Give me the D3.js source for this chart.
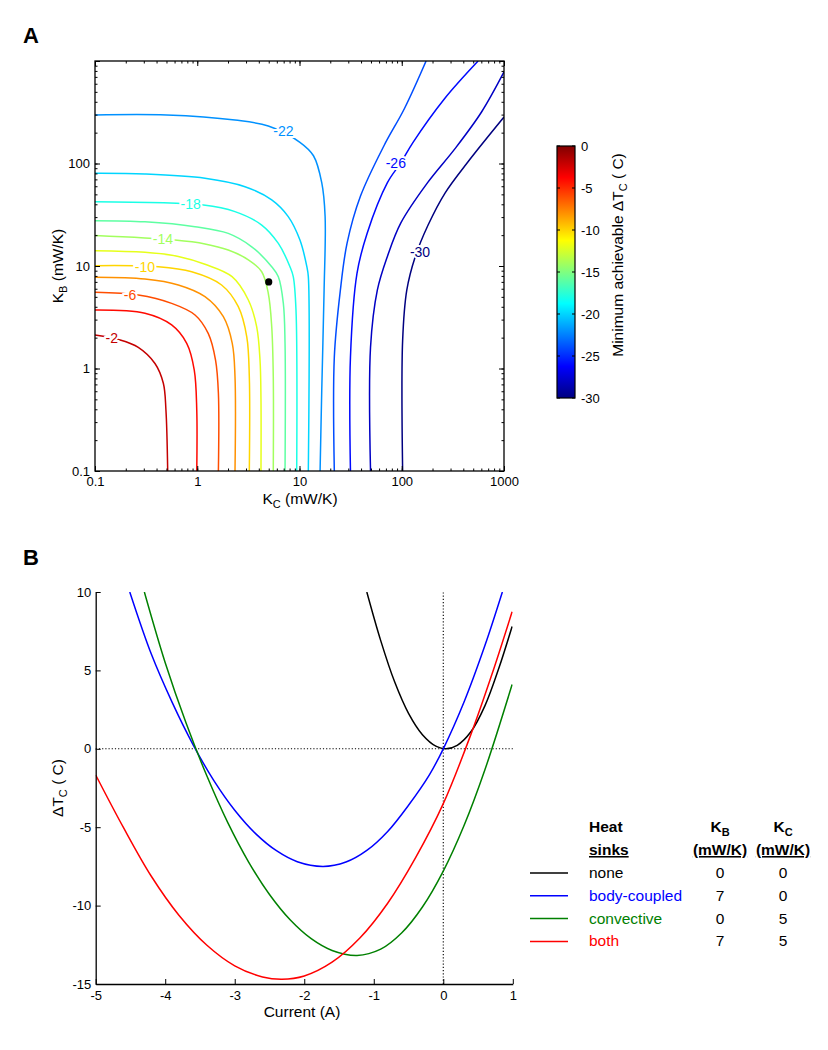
<!DOCTYPE html>
<html>
<head>
<meta charset="UTF-8">
<title>Heat sinks and minimum achievable dT</title>
<script src="https://d3js.org/d3.v7.min.js"></script>
<style>
  body { margin: 0; background: #ffffff; }
  svg { font-family: "Liberation Sans", Arial, Helvetica, sans-serif; }
</style>
</head>
<body>
<div id="chart"></div>
<script>
// ---------- panel A data: contour lines, points are [K_C, K_B] in mW/K ----------
var contourLevels = [-2, -4, -6, -8, -10, -12, -14, -16, -18, -20, -22, -24, -26, -28, -30];
var c2  = [[0.1,2.12],[0.176,1.90],[0.265,1.61],[0.386,1.12],[0.466,0.718],[0.494,0.394],[0.514,0.1]];
var c4  = [[0.1,3.72],[0.308,3.46],[0.562,2.66],[0.789,1.76],[0.935,0.966],[0.989,0.394],[0.989,0.1]];
var c6  = [[0.1,5.54],[0.265,5.21],[0.562,4.32],[0.951,3.33],[1.28,2.20],[1.51,1.21],[1.61,0.573],[1.61,0.1]];
var c8  = [[0.1,7.76],[0.308,7.46],[0.653,6.53],[1.19,5.02],[1.80,3.20],[2.20,1.76],[2.34,0.832],[2.34,0.1]];
var c10 = [[0.1,10.07],[0.416,9.84],[0.883,8.79],[1.73,6.53],[2.52,4.01],[3.05,2.04],[3.23,0.832],[3.23,0.1]];
var c12 = [[0.1,14.1],[0.308,13.6],[0.653,12.4],[1.19,10.4],[2.19,7.87],[3.16,4.66],[3.81,2.56],[4.11,1.21],[4.20,0.5],[4.20,0.1]];
var c14 = [[0.1,19.8],[0.605,17.9],[1.19,16.4],[2.01,14.3],[3.16,11.5],[4.27,8.79],[4.95,5.42],[5.35,2.56],[5.54,0.832],[5.54,0.1]];
var c16 = [[0.1,27.7],[0.308,27.0],[0.951,24.2],[2.01,20.8],[3.41,15.4],[5.35,9.84],[6.21,7.87],[6.95,4.32],[7.22,1.76],[7.22,0.1]];
var c18 = [[0.1,42.4],[1.15,39.3],[2.34,33.9],[4.27,25.1],[6.21,16.6],[8.07,9.84],[8.69,7.87],[9.24,3.72],[9.39,0.1]];
var c20 = [[0.1,80.2],[0.308,79.0],[1.19,71.8],[2.93,59.4],[5.35,44.1],[7.76,30.3],[10.1,17.9],[11.8,9.84],[12.2,7.87],[12.2,0.1]];
var c22 = [[0.1,297],[0.502,297],[2.34,265],[4.95,232],[10.1,161],[13.7,119],[16.5,65.0],[17.8,30.6],[17.4,5.81],[16.5,0.603],[15.9,0.1]];
var c24 = [[21.9,0.1],[21.9,1.29],[25.1,5.81],[29.2,16.7],[39.5,48.1],[67.0,149],[106,342],[173,1000]];
var c26 = [[31.5,0.1],[31.5,1.29],[36.5,8.47],[45.9,20.9],[72.4,65.0],[98.0,102],[129,161],[262,429],[558,1000]];
var c28 = [[49.5,0.1],[49.5,1.61],[57.7,5.81],[72.4,12.4],[98.0,26.3],[179,65.0],[329,138],[603,318],[1000,782]];
var c30 = [[102,0.1],[102,1.87],[112,5.81],[135,12.2],[181,25.1],[265,51.5],[445,104],[1000,284]];
var contourLines = [c2, c4, c6, c8, c10, c12, c14, c16, c18, c20, c22, c24, c26, c28, c30];

// inline contour labels
var labelLevels = [-2, -6, -10, -14, -18, -22, -26, -30];
var labelKC = [0.146, 0.220, 0.308, 0.462, 0.863, 6.95, 87.5, 151];
var labelKB = [1.97, 5.21, 9.84, 18.2, 40.3, 209, 101, 13.8];

// operating point marked on the map (K_C, K_B)
var markerKC = 5, markerKB = 7;

var xTicksA = [0.1, 1, 10, 100, 1000];
var xTickLabelsA = ["0.1", "1", "10", "100", "1000"];
var yTicksA = [0.1, 1, 10, 100];
var yTickLabelsA = ["0.1", "1", "10", "100"];
var colorbarTicks = [0, -5, -10, -15, -20, -25, -30];

// ---------- panel B data: dT_C (C) against current (A) ----------
var seriesNames = ["none", "body-coupled", "convective", "both"];
var seriesKB = [0, 7, 0, 7];
var seriesKC = [0, 0, 5, 5];
var noneCurve = [[-1.10,10.0],[-0.9,6.9],[-0.7,4.27],[-0.5,2.26],[-0.3,0.9],[-0.1,0.15],[0.04,0],[0.2,0.22],[0.4,1.1],[0.6,2.75],[0.8,5.15],[0.99,7.8]];
var bodyCurve = [[-4.51,10.0],[-4.2,6.04],[-3.9,2.96],[-3.6,0.27],[-3.3,-2.03],[-3.0,-3.92],[-2.7,-5.41],[-2.4,-6.5],[-2.1,-7.2],[-1.73,-7.5],[-1.4,-7.22],[-1.1,-6.48],[-0.8,-5.27],[-0.5,-3.6],[-0.2,-1.66],[0,0],[0.3,3.0],[0.6,6.6],[0.85,10.0]];
var convCurve = [[-4.30,10.0],[-4.0,5.49],[-3.7,1.64],[-3.4,-1.74],[-3.1,-4.71],[-2.8,-7.22],[-2.5,-9.29],[-2.2,-10.92],[-1.9,-12.11],[-1.6,-12.86],[-1.24,-13.18],[-0.9,-12.78],[-0.6,-11.75],[-0.3,-10.09],[0,-7.8],[0.3,-4.88],[0.6,-1.32],[0.99,4.1]];
var bothCurve = [[-5.0,-1.67],[-4.6,-5.03],[-4.2,-8.13],[-3.8,-10.63],[-3.4,-12.53],[-3.0,-13.84],[-2.6,-14.55],[-2.32,-14.7],[-2.0,-14.49],[-1.6,-13.61],[-1.2,-12.07],[-0.8,-9.85],[-0.4,-6.96],[0,-3.5],[0.4,0.95],[0.7,4.75],[0.99,8.74]];
var curves = [noneCurve, bodyCurve, convCurve, bothCurve];
var currentTicks = [-5, -4, -3, -2, -1, 0, 1];
var dTTicks = [10, 5, 0, -5, -10, -15];

// ---------- styling ----------
var seriesColors = ["#000000", "#0000ff", "#008000", "#ff0000"];
var jetPos = [0, 0.125, 0.375, 0.625, 0.875, 1];
var jetColors = ["#000080", "#0000ff", "#00ffff", "#ffff00", "#ff0000", "#800000"];
var tickFont = "13px";

var svg = d3.select("#chart").append("svg")
    .attr("width", 828)
    .attr("height", 1050);

var defs = svg.append("defs");

// ================= PANEL A =================
var xA = d3.scaleLog().domain([0.1, 1000]).range([95, 504]);
var yA = d3.scaleLog().domain([0.1, 1000]).range([471, 61]);
var jet = d3.scaleLinear()
    .domain(jetPos.map(function(p) { return -30 + 30 * p; }))
    .range(jetColors);

svg.append("text").attr("x", 23).attr("y", 43)
    .attr("font-size", "22px").attr("font-weight", "bold").text("A");

defs.append("clipPath").attr("id", "clipA").append("rect")
    .attr("x", 95).attr("y", 61).attr("width", 409).attr("height", 410);

var contourLine = d3.line()
    .x(function(d) { return xA(d[0]); })
    .y(function(d) { return yA(d[1]); })
    .curve(d3.curveCatmullRom.alpha(0.5));

svg.append("g").attr("clip-path", "url(#clipA)")
    .selectAll("path")
    .data(contourLines)
    .enter()
    .append("path")
    .attr("d", contourLine)
    .attr("fill", "none")
    .attr("stroke", function(d, i) { return jet(contourLevels[i]); })
    .attr("stroke-width", 1.5);

// labels sit in a white gap like the inline labels
svg.append("g").selectAll("text")
    .data(labelLevels)
    .enter()
    .append("text")
    .attr("x", function(d, i) { return xA(labelKC[i]); })
    .attr("y", function(d, i) { return yA(labelKB[i]); })
    .attr("dy", "0.36em")
    .attr("text-anchor", "middle")
    .attr("font-size", "14px")
    .attr("fill", function(d) { return jet(d); })
    .attr("stroke", "#ffffff")
    .attr("stroke-width", 4)
    .attr("paint-order", "stroke")
    .text(function(d) { return d; });

svg.append("circle")
    .attr("cx", xA(markerKC)).attr("cy", yA(markerKB))
    .attr("r", 3.6).attr("fill", "#000");

// axes with inward ticks on all four sides
function tickAxis(axis, size, values, labels, pad) {
    return axis.tickValues(values)
        .tickSizeInner(-size).tickSizeOuter(0).tickPadding(pad)
        .tickFormat(labels ? function(d, i) { return labels[i]; } : "");
}
var minorA = xA.ticks();
var axesA = [
    [d3.axisBottom(xA), "translate(0,471)"],
    [d3.axisTop(xA), "translate(0,61)"],
    [d3.axisLeft(yA), "translate(95,0)"],
    [d3.axisRight(yA), "translate(504,0)"]
];
axesA.forEach(function(a, k) {
    var g = svg.append("g").attr("transform", a[1]);
    g.call(tickAxis(a[0], 2.5, minorA, null, 0));
    g.select(".domain").remove();
    var g2 = svg.append("g").attr("transform", a[1]);
    if (k === 0) g2.call(tickAxis(a[0], 5, xTicksA, xTickLabelsA, 5.5));
    else if (k === 2) g2.call(tickAxis(a[0], 5, yTicksA.concat([1000]), yTickLabelsA.concat([""]), 5));
    else g2.call(tickAxis(a[0], 5, [0.1, 1, 10, 100, 1000], null, 0));
    g2.select(".domain").remove();
});
svg.selectAll(".tick text").attr("font-size", tickFont).attr("fill", "#000")
    .attr("font-family", '"Liberation Sans", Arial, sans-serif');
svg.selectAll(".tick line").attr("stroke", "#000");

svg.append("rect").attr("x", 95).attr("y", 61).attr("width", 409).attr("height", 410)
    .attr("fill", "none").attr("stroke", "#000").attr("stroke-width", 1.3);

var xlabA = svg.append("text").attr("x", 300).attr("y", 504)
    .attr("text-anchor", "middle").attr("font-size", "15.5px");
xlabA.append("tspan").text("K");
xlabA.append("tspan").attr("dy", 4).attr("font-size", "11px").text("C");
xlabA.append("tspan").attr("dy", -4).text(" (mW/K)");

var ylabA = svg.append("text").attr("transform", "translate(63,266) rotate(-90)")
    .attr("text-anchor", "middle").attr("font-size", "15.5px");
ylabA.append("tspan").text("K");
ylabA.append("tspan").attr("dy", 4).attr("font-size", "11px").text("B");
ylabA.append("tspan").attr("dy", -4).text(" (mW/K)");

// colorbar
var cbX = 557, cbW = 18;
var cbScale = d3.scaleLinear().domain([-30, 0]).range([398, 146]);
var grad = defs.append("linearGradient").attr("id", "jetGrad")
    .attr("x1", 0).attr("y1", 1).attr("x2", 0).attr("y2", 0);
grad.selectAll("stop").data(jetPos).enter().append("stop")
    .attr("offset", function(d) { return d; })
    .attr("stop-color", function(d, i) { return jetColors[i]; });
svg.append("rect").attr("x", cbX).attr("y", cbScale(0))
    .attr("width", cbW).attr("height", cbScale(-30) - cbScale(0))
    .attr("fill", "url(#jetGrad)").attr("stroke", "#000").attr("stroke-width", 1.2);
var cbG = svg.append("g");
cbG.selectAll("line.l").data(colorbarTicks).enter().append("line")
    .attr("x1", cbX).attr("x2", cbX + 3)
    .attr("y1", function(d) { return cbScale(d); }).attr("y2", function(d) { return cbScale(d); })
    .attr("stroke", "#000");
cbG.selectAll("line.r").data(colorbarTicks).enter().append("line")
    .attr("x1", cbX + cbW - 3).attr("x2", cbX + cbW)
    .attr("y1", function(d) { return cbScale(d); }).attr("y2", function(d) { return cbScale(d); })
    .attr("stroke", "#000");
cbG.selectAll("text").data(colorbarTicks).enter().append("text")
    .attr("x", cbX + cbW + 6).attr("y", function(d) { return cbScale(d); })
    .attr("dy", "0.36em").attr("font-size", tickFont)
    .text(function(d) { return String(d); });
var cbLab = svg.append("text").attr("transform", "translate(623,255) rotate(-90)")
    .attr("text-anchor", "middle").attr("font-size", "15.5px");
cbLab.append("tspan").text("Minimum achievable \u0394T");
cbLab.append("tspan").attr("dy", 4).attr("font-size", "11px").text("C");
cbLab.append("tspan").attr("dy", -4).text(" ( C)");

// ================= PANEL B =================
var xB = d3.scaleLinear().domain([-5, 1]).range([95.7, 512.8]);
var yB = d3.scaleLinear().domain([-15, 10]).range([984, 592]);

svg.append("text").attr("x", 23).attr("y", 565)
    .attr("font-size", "22px").attr("font-weight", "bold").text("B");

defs.append("clipPath").attr("id", "clipB").append("rect")
    .attr("x", xB(-5)).attr("y", yB(10)).attr("width", xB(1) - xB(-5)).attr("height", yB(-15) - yB(10));

// zero reference lines
svg.append("line").attr("x1", xB(-5)).attr("x2", xB(1)).attr("y1", yB(0)).attr("y2", yB(0))
    .attr("stroke", "#000").attr("stroke-width", 1.1).attr("stroke-dasharray", "1.2,2");
svg.append("line").attr("x1", xB(0)).attr("x2", xB(0)).attr("y1", yB(-15)).attr("y2", yB(10))
    .attr("stroke", "#000").attr("stroke-width", 1.1).attr("stroke-dasharray", "1.2,2");

var curveLine = d3.line()
    .x(function(d) { return xB(d[0]); })
    .y(function(d) { return yB(d[1]); })
    .curve(d3.curveCatmullRom.alpha(0.5));

svg.append("g").attr("clip-path", "url(#clipB)")
    .selectAll("path")
    .data(curves)
    .enter()
    .append("path")
    .attr("d", curveLine)
    .attr("fill", "none")
    .attr("stroke", function(d, i) { return seriesColors[i]; })
    .attr("stroke-width", 1.5);

var plain = function(d) { return String(d); };
var gxB = svg.append("g").attr("transform", "translate(0," + yB(-15) + ")")
    .call(d3.axisBottom(xB).tickValues(currentTicks).tickFormat(plain)
        .tickSizeInner(-5).tickSizeOuter(0).tickPadding(6.5));
var gyB = svg.append("g").attr("transform", "translate(" + xB(-5) + ",0)")
    .call(d3.axisLeft(yB).tickValues(dTTicks).tickFormat(plain)
        .tickSizeInner(-5).tickSizeOuter(0).tickPadding(4.5));
[gxB, gyB].forEach(function(g) {
    g.select(".domain").attr("stroke", "#000").attr("stroke-width", 1.3);
    g.selectAll(".tick text").attr("font-size", tickFont).attr("fill", "#000")
        .attr("font-family", '"Liberation Sans", Arial, sans-serif');
    g.selectAll(".tick line").attr("stroke", "#000");
});

svg.append("text").attr("x", 302).attr("y", 1017)
    .attr("text-anchor", "middle").attr("font-size", "15.5px").text("Current (A)");

var ylabB = svg.append("text").attr("transform", "translate(63,788) rotate(-90)")
    .attr("text-anchor", "middle").attr("font-size", "15.5px");
ylabB.append("tspan").text("\u0394T");
ylabB.append("tspan").attr("dy", 4).attr("font-size", "11px").text("C");
ylabB.append("tspan").attr("dy", -4).text(" ( C)");

// legend table
var legX = 589, colKB = 720, colKC = 783, row0 = 878, rowStep = 22.8;
var head = svg.append("g").attr("font-size", "15.5px").attr("font-weight", "bold");
head.append("text").attr("x", legX).attr("y", 832).text("Heat");
head.append("text").attr("x", legX).attr("y", 855)
    .style("text-decoration", "underline").text("sinks");
[["B", colKB], ["C", colKC]].forEach(function(h) {
    var t = head.append("text").attr("x", h[1]).attr("y", 832).attr("text-anchor", "middle");
    t.append("tspan").text("K");
    t.append("tspan").attr("dy", 4).attr("font-size", "11px").text(h[0]);
    head.append("text").attr("x", h[1]).attr("y", 855).attr("text-anchor", "middle")
        .style("text-decoration", "underline").text("(mW/K)");
});

var rows = svg.append("g").attr("font-size", "15.5px")
    .selectAll("g").data(seriesNames).enter().append("g");
rows.append("line")
    .attr("x1", 530).attr("x2", 568)
    .attr("y1", function(d, i) { return row0 + i * rowStep - 5; })
    .attr("y2", function(d, i) { return row0 + i * rowStep - 5; })
    .attr("stroke", function(d, i) { return seriesColors[i]; })
    .attr("stroke-width", 1.5);
rows.append("text").attr("x", legX)
    .attr("y", function(d, i) { return row0 + i * rowStep; })
    .attr("fill", function(d, i) { return seriesColors[i]; })
    .text(function(d) { return d; });
rows.append("text").attr("x", colKB).attr("text-anchor", "middle")
    .attr("y", function(d, i) { return row0 + i * rowStep; })
    .text(function(d, i) { return seriesKB[i]; });
rows.append("text").attr("x", colKC).attr("text-anchor", "middle")
    .attr("y", function(d, i) { return row0 + i * rowStep; })
    .text(function(d, i) { return seriesKC[i]; });
</script>
</body>
</html>
